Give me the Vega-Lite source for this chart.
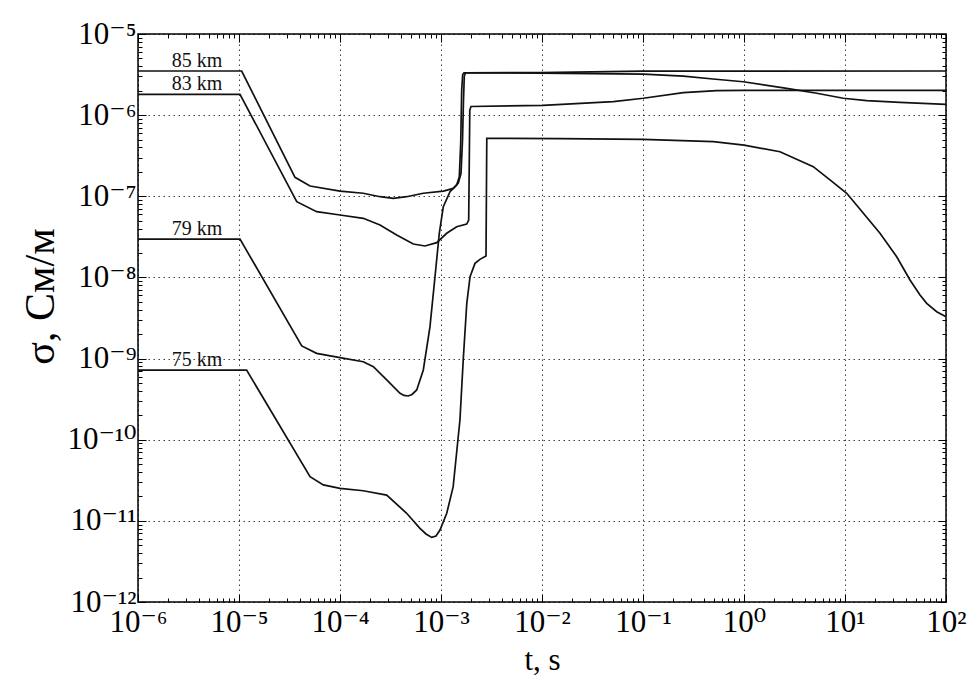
{
  "$schema": "https://vega.github.io/schema/vega-lite/v6.json",
  "width": 808,
  "height": 568,
  "autosize": {"type": "none"},
  "padding": {"left": 138, "top": 34, "right": 27, "bottom": 82},
  "background": "white",
  "config": {
    "view": {"stroke": "#000", "strokeWidth": 1.5},
    "font": "Liberation Serif",
    "axis": {"domain": false, "tickColor": "#000", "labelColor": "#000", "titleColor": "#000", "labelFont": "Liberation Serif, DejaVu Serif", "titleFont": "Liberation Serif", "titleFontWeight": "normal", "labelFlush": false, "labelOverlap": false}
  },
  "datasets": {
    "curves": [
      {"series": "85 km", "t": 1e-6, "sigma": 3.5e-6},
      {"series": "85 km", "t": 1.063e-5, "sigma": 3.5e-6},
      {"series": "85 km", "t": 3.585e-5, "sigma": 1.714e-7},
      {"series": "85 km", "t": 5.05e-5, "sigma": 1.34e-7},
      {"series": "85 km", "t": 1e-4, "sigma": 1.16e-7},
      {"series": "85 km", "t": 1.7e-4, "sigma": 1.09e-7},
      {"series": "85 km", "t": 2.49e-4, "sigma": 9.88e-8},
      {"series": "85 km", "t": 3.37e-4, "sigma": 9.44e-8},
      {"series": "85 km", "t": 4.57e-4, "sigma": 9.88e-8},
      {"series": "85 km", "t": 6.68e-4, "sigma": 1.09e-7},
      {"series": "85 km", "t": 1.055e-3, "sigma": 1.16e-7},
      {"series": "85 km", "t": 1.325e-3, "sigma": 1.25e-7},
      {"series": "85 km", "t": 1.483e-3, "sigma": 1.45e-7},
      {"series": "85 km", "t": 1.578e-3, "sigma": 1.92e-7},
      {"series": "85 km", "t": 1.633e-3, "sigma": 4.94e-7},
      {"series": "85 km", "t": 1.67e-3, "sigma": 1.54e-6},
      {"series": "85 km", "t": 1.701e-3, "sigma": 3.03e-6},
      {"series": "85 km", "t": 1.748e-3, "sigma": 3.33e-6},
      {"series": "85 km", "t": 9.55e-3, "sigma": 3.35e-6},
      {"series": "85 km", "t": 0.1, "sigma": 3.48e-6},
      {"series": "85 km", "t": 100, "sigma": 3.5e-6},

      {"series": "83 km", "t": 1e-6, "sigma": 1.807e-6},
      {"series": "83 km", "t": 1.023e-5, "sigma": 1.807e-6},
      {"series": "83 km", "t": 3.73e-5, "sigma": 8.57e-8},
      {"series": "83 km", "t": 5.87e-5, "sigma": 6.46e-8},
      {"series": "83 km", "t": 1e-4, "sigma": 5.88e-8},
      {"series": "83 km", "t": 1.7e-4, "sigma": 5.35e-8},
      {"series": "83 km", "t": 2.49e-4, "sigma": 4.43e-8},
      {"series": "83 km", "t": 3.64e-4, "sigma": 3.33e-8},
      {"series": "83 km", "t": 5.32e-4, "sigma": 2.58e-8},
      {"series": "83 km", "t": 6.94e-4, "sigma": 2.44e-8},
      {"series": "83 km", "t": 9.07e-4, "sigma": 2.68e-8},
      {"series": "83 km", "t": 1.139e-3, "sigma": 3.5e-8},
      {"series": "83 km", "t": 1.43e-3, "sigma": 4.22e-8},
      {"series": "83 km", "t": 1.797e-3, "sigma": 4.55e-8},
      {"series": "83 km", "t": 1.88e-3, "sigma": 5.1e-8},
      {"series": "83 km", "t": 1.906e-3, "sigma": 2.8e-7},
      {"series": "83 km", "t": 1.928e-3, "sigma": 1.156e-6},
      {"series": "83 km", "t": 1.982e-3, "sigma": 1.278e-6},
      {"series": "83 km", "t": 1.023e-2, "sigma": 1.322e-6},
      {"series": "83 km", "t": 5.08e-2, "sigma": 1.466e-6},
      {"series": "83 km", "t": 0.1007, "sigma": 1.614e-6},
      {"series": "83 km", "t": 0.2507, "sigma": 1.892e-6},
      {"series": "83 km", "t": 0.537, "sigma": 2.0e-6},
      {"series": "83 km", "t": 0.984, "sigma": 2.02e-6},
      {"series": "83 km", "t": 100, "sigma": 2.02e-6},

      {"series": "79 km", "t": 1e-6, "sigma": 2.97e-8},
      {"series": "79 km", "t": 1.023e-5, "sigma": 2.97e-8},
      {"series": "79 km", "t": 4.18e-5, "sigma": 1.43e-9},
      {"series": "79 km", "t": 5.87e-5, "sigma": 1.16e-9},
      {"series": "79 km", "t": 1e-4, "sigma": 1.026e-9},
      {"series": "79 km", "t": 1.7e-4, "sigma": 9.15e-10},
      {"series": "79 km", "t": 2.14e-4, "sigma": 7.94e-10},
      {"series": "79 km", "t": 2.9e-4, "sigma": 5.45e-10},
      {"series": "79 km", "t": 3.93e-4, "sigma": 3.73e-10},
      {"series": "79 km", "t": 4.3e-4, "sigma": 3.51e-10},
      {"series": "79 km", "t": 4.74e-4, "sigma": 3.46e-10},
      {"series": "79 km", "t": 5.16e-4, "sigma": 3.61e-10},
      {"series": "79 km", "t": 5.75e-4, "sigma": 4.1e-10},
      {"series": "79 km", "t": 6.68e-4, "sigma": 7.23e-10},
      {"series": "79 km", "t": 7.78e-4, "sigma": 2.47e-9},
      {"series": "79 km", "t": 8.72e-4, "sigma": 1.02e-8},
      {"series": "79 km", "t": 9.62e-4, "sigma": 3.5e-8},
      {"series": "79 km", "t": 1.054e-3, "sigma": 7.45e-8},
      {"series": "79 km", "t": 1.228e-3, "sigma": 1.14e-7},
      {"series": "79 km", "t": 1.43e-3, "sigma": 1.38e-7},
      {"series": "79 km", "t": 1.518e-3, "sigma": 1.74e-7},
      {"series": "79 km", "t": 1.567e-3, "sigma": 4.5e-7},
      {"series": "79 km", "t": 1.603e-3, "sigma": 2.04e-6},
      {"series": "79 km", "t": 1.64e-3, "sigma": 3.17e-6},
      {"series": "79 km", "t": 1.689e-3, "sigma": 3.32e-6},
      {"series": "79 km", "t": 9.55e-3, "sigma": 3.3e-6},
      {"series": "79 km", "t": 0.1007, "sigma": 3.21e-6},
      {"series": "79 km", "t": 0.2507, "sigma": 3.03e-6},
      {"series": "79 km", "t": 0.493, "sigma": 2.79e-6},
      {"series": "79 km", "t": 0.984, "sigma": 2.58e-6},
      {"series": "79 km", "t": 2.65, "sigma": 2.14e-6},
      {"series": "79 km", "t": 5.25, "sigma": 1.86e-6},
      {"series": "79 km", "t": 9.62, "sigma": 1.614e-6},
      {"series": "79 km", "t": 16.4, "sigma": 1.51e-6},
      {"series": "79 km", "t": 35.0, "sigma": 1.44e-6},
      {"series": "79 km", "t": 100, "sigma": 1.36e-6},

      {"series": "75 km", "t": 1e-6, "sigma": 7.2e-10},
      {"series": "75 km", "t": 1.19e-5, "sigma": 7.2e-10},
      {"series": "75 km", "t": 5.05e-5, "sigma": 3.5e-11},
      {"series": "75 km", "t": 6.84e-5, "sigma": 2.77e-11},
      {"series": "75 km", "t": 1e-4, "sigma": 2.52e-11},
      {"series": "75 km", "t": 1.7e-4, "sigma": 2.35e-11},
      {"series": "75 km", "t": 2.9e-4, "sigma": 2.08e-11},
      {"series": "75 km", "t": 4.57e-4, "sigma": 1.24e-11},
      {"series": "75 km", "t": 6.19e-4, "sigma": 8.09e-12},
      {"series": "75 km", "t": 7.1e-4, "sigma": 6.89e-12},
      {"series": "75 km", "t": 8.09e-4, "sigma": 6.26e-12},
      {"series": "75 km", "t": 8.92e-4, "sigma": 6.5e-12},
      {"series": "75 km", "t": 9.77e-4, "sigma": 7.7e-12},
      {"series": "75 km", "t": 1.14e-3, "sigma": 1.24e-11},
      {"series": "75 km", "t": 1.32e-3, "sigma": 2.64e-11},
      {"series": "75 km", "t": 1.54e-3, "sigma": 1.75e-10},
      {"series": "75 km", "t": 1.66e-3, "sigma": 9.6e-10},
      {"series": "75 km", "t": 1.8e-3, "sigma": 4.8e-9},
      {"series": "75 km", "t": 1.94e-3, "sigma": 1.02e-8},
      {"series": "75 km", "t": 2.17e-3, "sigma": 1.49e-8},
      {"series": "75 km", "t": 2.43e-3, "sigma": 1.67e-8},
      {"series": "75 km", "t": 2.79e-3, "sigma": 1.84e-8},
      {"series": "75 km", "t": 2.84e-3, "sigma": 5.19e-7},
      {"series": "75 km", "t": 1.51e-2, "sigma": 5.15e-7},
      {"series": "75 km", "t": 0.1, "sigma": 5.04e-7},
      {"series": "75 km", "t": 0.497, "sigma": 4.71e-7},
      {"series": "75 km", "t": 1.0, "sigma": 4.28e-7},
      {"series": "75 km", "t": 2.27, "sigma": 3.54e-7},
      {"series": "75 km", "t": 4.85, "sigma": 2.32e-7},
      {"series": "75 km", "t": 7.1, "sigma": 1.59e-7},
      {"series": "75 km", "t": 10.4, "sigma": 1.09e-7},
      {"series": "75 km", "t": 15.2, "sigma": 6.17e-8},
      {"series": "75 km", "t": 22.2, "sigma": 3.5e-8},
      {"series": "75 km", "t": 32.5, "sigma": 1.8e-8},
      {"series": "75 km", "t": 44.0, "sigma": 9.3e-9},
      {"series": "75 km", "t": 55.3, "sigma": 6.07e-9},
      {"series": "75 km", "t": 64.4, "sigma": 4.8e-9},
      {"series": "75 km", "t": 80.9, "sigma": 3.78e-9},
      {"series": "75 km", "t": 100, "sigma": 3.28e-9}
    ],
    "labels": [
      {"label": "85 km", "t": 3.84e-6, "sigma": 3.5e-6},
      {"label": "83 km", "t": 3.84e-6, "sigma": 1.807e-6},
      {"label": "79 km", "t": 3.84e-6, "sigma": 2.97e-8},
      {"label": "75 km", "t": 3.84e-6, "sigma": 7.2e-10}
    ]
  },
  "layer": [
    {
      "data": {"name": "curves"},
      "mark": {"type": "line", "color": "#111", "strokeWidth": 1.7, "clip": true},
      "encoding": {
        "x": {
          "field": "t", "type": "quantitative",
          "scale": {"type": "log", "domain": [1e-6, 100], "nice": false},
          "axis": {
            "orient": "bottom",
            "values": [1e-6, 1e-5, 1e-4, 1e-3, 1e-2, 0.1, 1, 10, 100],
            "labelExpr": "'10' + (round(log(datum.value)/LN10) < 0 ? '⁻' : '') + (abs(round(log(datum.value)/LN10)) >= 10 ? '¹' : '') + ['⁰','¹','²','³','⁴','⁵','⁶','⁷','⁸','⁹'][abs(round(log(datum.value)/LN10)) % 10]",
            "labelFontSize": 31,
            "tickSize": -8,
            "tickWidth": 1,
            "labelPadding": 13,
            "grid": true,
            "gridDash": [1.5, 3.5],
            "gridColor": "#000",
            "gridOpacity": 0.75,
            "gridWidth": 1,
            "title": "t, s",
            "titleFontSize": 31,
            "titlePadding": 8
          }
        },
        "y": {
          "field": "sigma", "type": "quantitative",
          "scale": {"type": "log", "domain": [1e-12, 1e-5], "nice": false},
          "axis": {
            "orient": "left",
            "values": [1e-12, 1e-11, 1e-10, 1e-9, 1e-8, 1e-7, 1e-6, 1e-5],
            "labelExpr": "'10' + (round(log(datum.value)/LN10) < 0 ? '⁻' : '') + (abs(round(log(datum.value)/LN10)) >= 10 ? '¹' : '') + ['⁰','¹','²','³','⁴','⁵','⁶','⁷','⁸','⁹'][abs(round(log(datum.value)/LN10)) % 10]",
            "labelFontSize": 31,
            "tickSize": -8,
            "tickWidth": 1,
            "labelPadding": 10,
            "grid": true,
            "gridDash": [1.5, 3.5],
            "gridColor": "#000",
            "gridOpacity": 0.75,
            "gridWidth": 1,
            "title": "σ, См/м",
            "titleFontSize": 42,
            "titlePadding": 4,
            "titleY": 262
          }
        },
        "detail": {"field": "series", "type": "nominal"}
      }
    },
    {
      "data": {"name": "labels"},
      "mark": {"type": "text", "align": "center", "baseline": "alphabetic", "dy": -4, "fontSize": 20, "color": "#111", "font": "Liberation Serif"},
      "encoding": {
        "x": {
          "field": "t", "type": "quantitative",
          "axis": {
            "orient": "bottom",
            "values": [2e-6, 3e-6, 4e-6, 5e-6, 6e-6, 7e-6, 8e-6, 9e-6, 2e-5, 3e-5, 4e-5, 5e-5, 6e-5, 7e-5, 8e-5, 9e-5, 2e-4, 3e-4, 4e-4, 5e-4, 6e-4, 7e-4, 8e-4, 9e-4, 2e-3, 3e-3, 4e-3, 5e-3, 6e-3, 7e-3, 8e-3, 9e-3, 0.02, 0.03, 0.04, 0.05, 0.06, 0.07, 0.08, 0.09, 0.2, 0.3, 0.4, 0.5, 0.6, 0.7, 0.8, 0.9, 2, 3, 4, 5, 6, 7, 8, 9, 20, 30, 40, 50, 60, 70, 80, 90],
            "labels": false, "grid": false, "tickSize": -4, "tickWidth": 1, "title": null
          }
        },
        "y": {
          "field": "sigma", "type": "quantitative",
          "axis": {
            "orient": "left",
            "values": [2e-12, 3e-12, 4e-12, 5e-12, 6e-12, 7e-12, 8e-12, 9e-12, 2e-11, 3e-11, 4e-11, 5e-11, 6e-11, 7e-11, 8e-11, 9e-11, 2e-10, 3e-10, 4e-10, 5e-10, 6e-10, 7e-10, 8e-10, 9e-10, 2e-9, 3e-9, 4e-9, 5e-9, 6e-9, 7e-9, 8e-9, 9e-9, 2e-8, 3e-8, 4e-8, 5e-8, 6e-8, 7e-8, 8e-8, 9e-8, 2e-7, 3e-7, 4e-7, 5e-7, 6e-7, 7e-7, 8e-7, 9e-7, 2e-6, 3e-6, 4e-6, 5e-6, 6e-6, 7e-6, 8e-6, 9e-6],
            "labels": false, "grid": false, "tickSize": -4, "tickWidth": 1, "title": null
          }
        },
        "text": {"field": "label", "type": "nominal"}
      }
    },
    {
      "data": {"name": "curves"},
      "mark": {"type": "line", "strokeOpacity": 0},
      "encoding": {
        "x": {
          "field": "t", "type": "quantitative",
          "axis": {"orient": "top", "values": [1e-6, 1e-5, 1e-4, 1e-3, 1e-2, 0.1, 1, 10, 100], "labels": false, "grid": false, "tickSize": -8, "tickWidth": 1, "title": null}
        },
        "y": {
          "field": "sigma", "type": "quantitative",
          "axis": {"orient": "right", "values": [1e-12, 1e-11, 1e-10, 1e-9, 1e-8, 1e-7, 1e-6, 1e-5], "labels": false, "grid": false, "tickSize": -8, "tickWidth": 1, "title": null}
        },
        "detail": {"field": "series", "type": "nominal"}
      }
    },
    {
      "data": {"name": "curves"},
      "mark": {"type": "line", "strokeOpacity": 0},
      "encoding": {
        "x": {
          "field": "t", "type": "quantitative",
          "axis": {
            "orient": "top",
            "values": [2e-6, 3e-6, 4e-6, 5e-6, 6e-6, 7e-6, 8e-6, 9e-6, 2e-5, 3e-5, 4e-5, 5e-5, 6e-5, 7e-5, 8e-5, 9e-5, 2e-4, 3e-4, 4e-4, 5e-4, 6e-4, 7e-4, 8e-4, 9e-4, 2e-3, 3e-3, 4e-3, 5e-3, 6e-3, 7e-3, 8e-3, 9e-3, 0.02, 0.03, 0.04, 0.05, 0.06, 0.07, 0.08, 0.09, 0.2, 0.3, 0.4, 0.5, 0.6, 0.7, 0.8, 0.9, 2, 3, 4, 5, 6, 7, 8, 9, 20, 30, 40, 50, 60, 70, 80, 90],
            "labels": false, "grid": false, "tickSize": -4, "tickWidth": 1, "title": null
          }
        },
        "y": {
          "field": "sigma", "type": "quantitative",
          "axis": {
            "orient": "right",
            "values": [2e-12, 3e-12, 4e-12, 5e-12, 6e-12, 7e-12, 8e-12, 9e-12, 2e-11, 3e-11, 4e-11, 5e-11, 6e-11, 7e-11, 8e-11, 9e-11, 2e-10, 3e-10, 4e-10, 5e-10, 6e-10, 7e-10, 8e-10, 9e-10, 2e-9, 3e-9, 4e-9, 5e-9, 6e-9, 7e-9, 8e-9, 9e-9, 2e-8, 3e-8, 4e-8, 5e-8, 6e-8, 7e-8, 8e-8, 9e-8, 2e-7, 3e-7, 4e-7, 5e-7, 6e-7, 7e-7, 8e-7, 9e-7, 2e-6, 3e-6, 4e-6, 5e-6, 6e-6, 7e-6, 8e-6, 9e-6],
            "labels": false, "grid": false, "tickSize": -4, "tickWidth": 1, "title": null
          }
        },
        "detail": {"field": "series", "type": "nominal"}
      }
    }
  ],
  "resolve": {"axis": {"x": "independent", "y": "independent"}}
}
